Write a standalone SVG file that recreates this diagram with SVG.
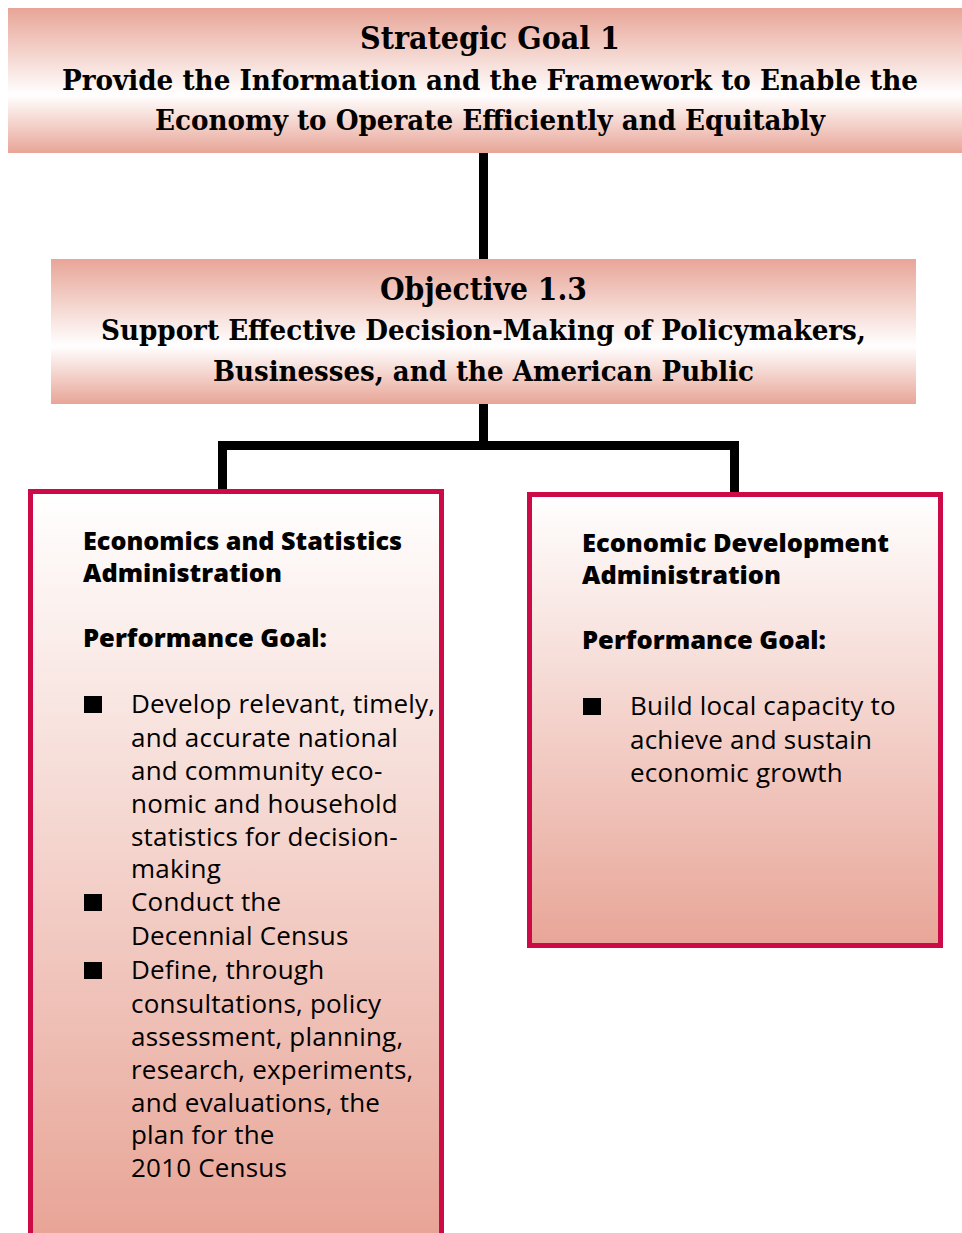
<svg xmlns="http://www.w3.org/2000/svg" width="962" height="1233" viewBox="0 0 962 1233">
<defs>
<linearGradient id="band" x1="0" y1="0" x2="0" y2="1">
<stop offset="0" stop-color="#e8a597"/>
<stop offset="0.6" stop-color="#ffffff"/>
<stop offset="1" stop-color="#e8a597"/>
</linearGradient>
<linearGradient id="fadeL" gradientUnits="userSpaceOnUse" x1="0" y1="492" x2="0" y2="1233">
<stop offset="0" stop-color="#ffffff"/>
<stop offset="1" stop-color="#e8a597"/>
</linearGradient>
<linearGradient id="fadeR" gradientUnits="userSpaceOnUse" x1="0" y1="494" x2="0" y2="947">
<stop offset="0" stop-color="#ffffff"/>
<stop offset="1" stop-color="#e8a597"/>
</linearGradient>
</defs>
<style>
.title{font-family:"DejaVu Serif Condensed","DejaVu Serif","Liberation Serif",serif;font-weight:bold;fill:#000;text-anchor:middle}
.head{font-family:"Open Sans","Noto Sans","DejaVu Sans",sans-serif;font-weight:800;font-size:24px;fill:#000}
.body{font-family:"Open Sans","Noto Sans","DejaVu Sans",sans-serif;font-size:26px;letter-spacing:0.2px;fill:#000}
.box{stroke:#cc0a48;stroke-width:5}
.conn{fill:#000}
</style>
<g id="connectors">
<rect class="conn" x="479" y="150" width="9" height="112"/>
<rect class="conn" x="479" y="401" width="9" height="48"/>
<rect class="conn" x="218" y="441" width="521" height="9"/>
<rect class="conn" x="218" y="441" width="9" height="50"/>
<rect class="conn" x="730" y="441" width="9" height="52"/>
</g>
<g id="goal">
<rect x="8" y="8" width="954" height="145" fill="url(#band)"/>
<text class="title" x="490" y="49" font-size="32" textLength="260" lengthAdjust="spacingAndGlyphs">Strategic Goal 1</text>
<text class="title" x="490" y="90" font-size="27" textLength="856" lengthAdjust="spacingAndGlyphs">Provide the Information and the Framework to Enable the</text>
<text class="title" x="490" y="130" font-size="27" textLength="670" lengthAdjust="spacingAndGlyphs">Economy to Operate Efficiently and Equitably</text>
</g>
<g id="objective">
<rect x="51" y="259" width="865" height="145" fill="url(#band)"/>
<text class="title" x="483.5" y="300" font-size="32" textLength="207" lengthAdjust="spacingAndGlyphs">Objective 1.3</text>
<text class="title" x="483.5" y="340" font-size="27" textLength="765" lengthAdjust="spacingAndGlyphs">Support Effective Decision-Making of Policymakers,</text>
<text class="title" x="483.5" y="381" font-size="27" textLength="541" lengthAdjust="spacingAndGlyphs">Businesses, and the American Public</text>
</g>
<g id="esa">
<rect class="box" x="30.5" y="491.5" width="411" height="800" fill="url(#fadeL)"/>
<text class="head" x="83" y="550" textLength="319" lengthAdjust="spacingAndGlyphs">Economics and Statistics</text>
<text class="head" x="83" y="582" textLength="199" lengthAdjust="spacingAndGlyphs">Administration</text>
<text class="head" x="83" y="647" textLength="244" lengthAdjust="spacingAndGlyphs">Performance Goal:</text>
<rect x="84" y="696" width="18" height="17" fill="#000"/>
<rect x="84" y="894" width="18" height="17" fill="#000"/>
<rect x="84" y="962" width="18" height="17" fill="#000"/>
<text class="body" x="131" y="713">Develop relevant, timely,</text>
<text class="body" x="131" y="747">and accurate national</text>
<text class="body" x="131" y="780">and community eco-</text>
<text class="body" x="131" y="813">nomic and household</text>
<text class="body" x="131" y="846">statistics for decision-</text>
<text class="body" x="131" y="878">making</text>
<text class="body" x="131" y="911">Conduct the</text>
<text class="body" x="131" y="945">Decennial Census</text>
<text class="body" x="131" y="979">Define, through</text>
<text class="body" x="131" y="1013">consultations, policy</text>
<text class="body" x="131" y="1046">assessment, planning,</text>
<text class="body" x="131" y="1079">research, experiments,</text>
<text class="body" x="131" y="1112">and evaluations, the</text>
<text class="body" x="131" y="1144">plan for the</text>
<text class="body" x="131" y="1177">2010 Census</text>
</g>
<g id="eda">
<rect class="box" x="529.5" y="494.5" width="411" height="451" fill="url(#fadeR)"/>
<text class="head" x="582" y="552" textLength="307" lengthAdjust="spacingAndGlyphs">Economic Development</text>
<text class="head" x="582" y="584" textLength="199" lengthAdjust="spacingAndGlyphs">Administration</text>
<text class="head" x="582" y="649" textLength="244" lengthAdjust="spacingAndGlyphs">Performance Goal:</text>
<rect x="583" y="698" width="18" height="17" fill="#000"/>
<text class="body" x="630" y="715">Build local capacity to</text>
<text class="body" x="630" y="749">achieve and sustain</text>
<text class="body" x="630" y="782">economic growth</text>
</g>
</svg>
